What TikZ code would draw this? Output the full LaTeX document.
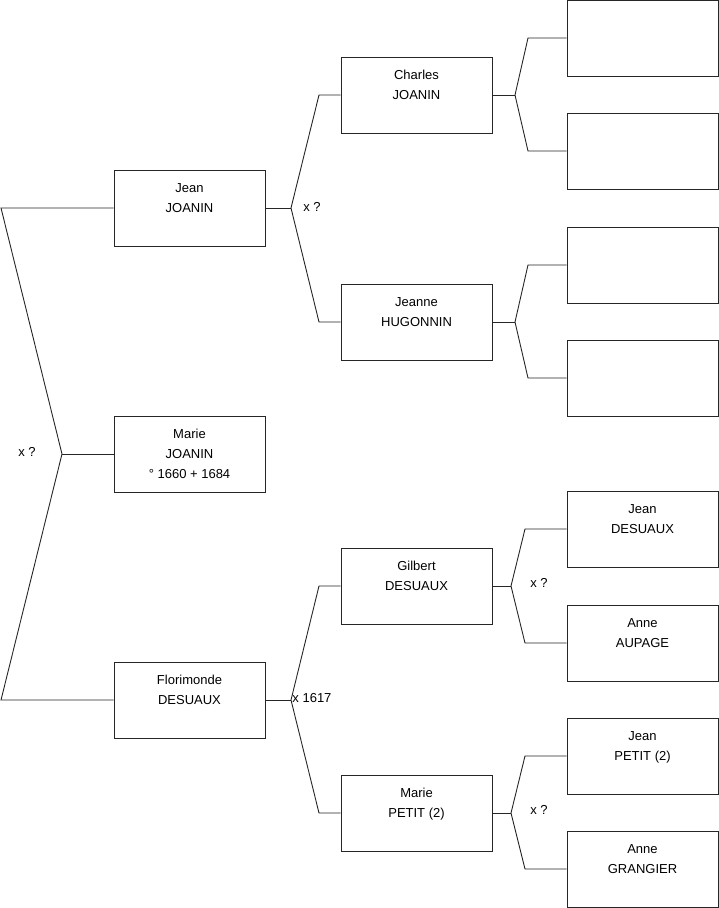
\documentclass[tikz,border=0pt]{standalone}
\usepackage{fontspec}
\setmainfont{Liberation Sans}
\usepackage{tikz}
\usetikzlibrary{positioning}

\begin{document}
\begin{tikzpicture}[x=1pt, y=-1pt, line width=0.9pt,
        person/.style={rectangle, draw=black!85, minimum width=151pt, minimum height=76pt, inner sep=0pt, align=center, font=\fontsize{13}{20}\selectfont},
        link/.style={draw=black!85},
        union/.style={inner sep=0pt, font=\fontsize{13}{15}\selectfont}
    ]
        \useasboundingbox (0,0) rectangle (719,908);

        % Generation 1
        \node [person] (jean) at (189.5,208) {Jean\\JOANIN\\\mbox{}};
        \node [person] (marie) at (189.5,454) {Marie\\JOANIN\\\textdegree{} 1660 + 1684};
        \node [person] (flor) at (189.5,700) {Florimonde\\DESUAUX\\\mbox{}};

        % Generation 2
        \node [person] (charles) at (416.5,95) {Charles\\JOANIN\\\mbox{}};
        \node [person] (jeanne) at (416.5,322) {Jeanne\\HUGONNIN\\\mbox{}};
        \node [person] (gilbert) at (416.5,586) {Gilbert\\DESUAUX\\\mbox{}};
        \node [person] (mpetit) at (416.5,813) {Marie\\PETIT (2)\\\mbox{}};

        % Generation 3
        \node [person] (c1) at (642.5,38) {};
        \node [person] (c2) at (642.5,151) {};
        \node [person] (h1) at (642.5,265) {};
        \node [person] (h2) at (642.5,378) {};
        \node [person] (jdes) at (642.5,529) {Jean\\DESUAUX\\\mbox{}};
        \node [person] (aaup) at (642.5,643) {Anne\\AUPAGE\\\mbox{}};
        \node [person] (jpet) at (642.5,756) {Jean\\PETIT (2)\\\mbox{}};
        \node [person] (agra) at (642.5,869) {Anne\\GRANGIER\\\mbox{}};

        % Fork points
        \coordinate (a0) at (62,454);
        \coordinate (a1) at (1,208);
        \coordinate (a2) at (1,700);
        \coordinate (b0) at (291,208);
        \coordinate (b1) at (319,95);
        \coordinate (b2) at (319,322);
        \coordinate (d0) at (291,700);
        \coordinate (d1) at (319,586);
        \coordinate (d2) at (319,813);
        \coordinate (e0) at (515,95);
        \coordinate (e1) at (528,38);
        \coordinate (e2) at (528,151);
        \coordinate (f0) at (515,322);
        \coordinate (f1) at (528,265);
        \coordinate (f2) at (528,378);
        \coordinate (g0) at (511,586);
        \coordinate (g1) at (525,529);
        \coordinate (g2) at (525,643);
        \coordinate (k0) at (511,813);
        \coordinate (k1) at (525,756);
        \coordinate (k2) at (525,869);

        % Connectors
        \draw[link] (jean) -- (a1) -- (a0) -- (a2) -- (flor);
        \draw[link] (a0) -- (marie);
        \draw[link] (jean) -- (b0);
        \draw[link] (charles) -- (b1) -- (b0) -- (b2) -- (jeanne);
        \draw[link] (flor) -- (d0);
        \draw[link] (gilbert) -- (d1) -- (d0) -- (d2) -- (mpetit);
        \draw[link] (charles) -- (e0);
        \draw[link] (c1) -- (e1) -- (e0) -- (e2) -- (c2);
        \draw[link] (jeanne) -- (f0);
        \draw[link] (h1) -- (f1) -- (f0) -- (f2) -- (h2);
        \draw[link] (gilbert) -- (g0);
        \draw[link] (jdes) -- (g1) -- (g0) -- (g2) -- (aaup);
        \draw[link] (mpetit) -- (k0);
        \draw[link] (jpet) -- (k1) -- (k0) -- (k2) -- (agra);

        % Unions
        \node [union] (u0) at (27,452) {x ?};
        \node [union] (u1) at (312,207) {x ?};
        \node [union, anchor=west] (u2) at (292,698) {x 1617};
        \node [union] (u3) at (539,583) {x ?};
        \node [union] (u4) at (539,810) {x ?};
    \end{tikzpicture}
\end{document}
